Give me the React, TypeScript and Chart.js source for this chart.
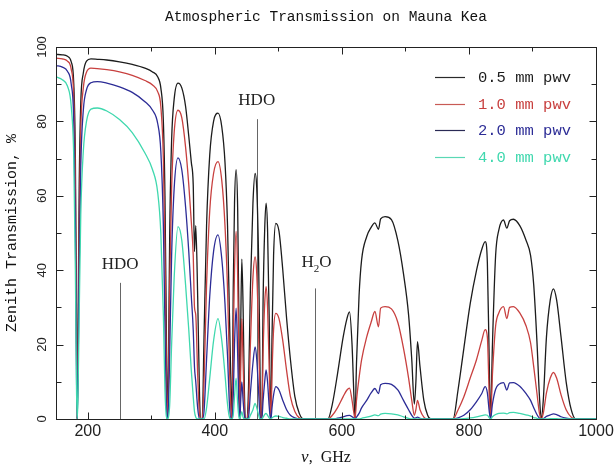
import React, { useEffect, useRef } from "react";
import { Chart, registerables } from "chart.js";

Chart.register(...registerables);

// ---- data ----
const freqGHz = [
  150, 160, 168, 174, 178, 180.5, 182.3, 183.3, 184.5, 186.5, 189, 193, 198, 205, 215,
  230, 250, 270, 290, 302, 310, 315, 319, 321.5, 323.5, 325.2, 327, 329, 332, 336, 342,
  348, 354, 359, 363, 366, 368, 370, 373, 376, 378, 380.2, 383, 387, 392, 398, 405, 411,
  416, 420, 423, 425.5, 427, 429, 431, 433.5, 436, 438, 439.3, 441, 442.5, 444.5, 446.5,
  448, 450, 453, 456, 460, 463.4, 466, 469, 471, 472.5, 474, 476, 478.5, 480.7, 483,
  485.5, 487.2, 488.3, 490, 492.5, 496, 501, 507, 513, 519, 526, 533, 540, 578, 585, 593,
  602, 608, 612, 616, 619, 620.7, 623, 627, 631, 639, 646, 652, 657.6, 661, 668, 678, 688,
  697, 705, 710, 714, 716.5, 719, 723, 729, 735, 740, 775, 783, 792, 802, 812, 820, 825.6,
  829, 832, 834, 837, 842, 847, 854.4, 859.7, 864, 870, 880, 890, 897, 902, 907, 911,
  913.8, 917, 922, 928, 933, 938, 945, 953, 961, 968, 1000,
];

const pwv05 = [
  98.0, 97.9, 97.5, 96.0, 90, 70, 25, 0, 20, 62, 85, 93, 96.2, 96.8, 96.7,
  96.5, 96.0, 95.3, 94.3, 93.3, 92.0, 89.0, 80, 60, 28, 0, 15, 50, 75, 86, 90.3,
  89, 84, 76, 69, 63, 45, 52, 33, 6, 0, 0, 22, 52, 71, 80, 82.2, 78.5,
  69, 52, 28, 8, 0, 35, 58, 67, 56, 25, 0, 28, 43, 30, 8,
  0, 0, 8, 35, 58, 66, 62, 42, 15, 0, 0, 32, 51, 58, 51,
  28, 5, 0, 22, 44, 52.6, 50.5, 40, 27, 16, 6, 1.5, 0, 0, 4, 12,
  22, 27, 28.8, 20, 6, 0, 15, 33, 42.7, 49, 51.5, 52.7, 51, 53.8, 54.4, 53.6, 48,
  39, 28, 16, 4, 10, 20.8, 14, 5, 1, 0, 0, 8, 19, 31, 40, 45.5, 47.7,
  42, 15, 0, 20, 44, 50.8, 53.5, 51.3, 53.3, 53.7, 52, 48, 44, 36, 21, 6,
  0, 5, 22, 32, 35, 32, 22, 10, 2.5, 0, 0,
];

const pwv10 = [
  97.0, 96.8, 96.2, 94.0, 86, 62, 18, 0, 14, 52, 78, 89, 93.2, 94.3, 94.2,
  93.9, 93.3, 92.4, 91.0, 89.8, 88.0, 84.0, 70, 45, 15, 0, 8, 36, 62, 77, 83,
  81, 73, 63, 53, 44, 30, 28, 12, 1, 0, 0, 10, 36, 56, 66, 69.2, 64,
  52, 35, 14, 2, 0, 20, 40, 50.4, 38, 12, 0, 16, 27, 15, 3,
  0, 0, 3, 20, 38, 43.6, 39, 22, 6, 0, 0, 18, 31, 35.6, 30,
  14, 2, 0, 12, 24, 28.4, 27, 21, 13, 6, 2, 0.3, 0, 0, 1, 3,
  6, 7.8, 8.3, 5, 1.5, 0, 5, 11, 15.9, 22, 26, 28.9, 24.8, 29.8, 30.2, 29.6, 26,
  19, 11, 5, 1, 2.5, 5, 2.5, 0.5, 0, 0, 0, 2.5, 6, 11, 16, 21, 24,
  22, 6, 0, 12, 25, 28.5, 30.2, 27, 30, 30.2, 28.5, 25, 20.5, 14, 7, 1.5,
  0, 1.5, 7, 11, 12.5, 11, 6.5, 2.5, 0.5, 0, 0,
];

const pwv20 = [
  95.0, 94.6, 93.5, 90.0, 80, 52, 12, 0, 9, 40, 68, 83, 88.5, 90.4, 90.7,
  90.3, 89.3, 87.8, 85.3, 83.0, 79.5, 72.0, 52, 25, 5, 0, 3, 18, 44, 62, 70.2,
  67, 57, 45, 33, 24, 14, 10, 3, 0, 0, 0, 2, 16, 33, 45, 49.5, 43,
  31, 17, 4, 0, 0, 6, 20, 29.8, 17, 3, 0, 6, 10, 5, 1,
  0, 0, 0.5, 7, 15, 19.4, 16, 7, 1, 0, 0, 5, 10, 13.2, 10,
  3.5, 0.5, 0, 3, 6.5, 8.7, 7.8, 5, 2.5, 1, 0.3, 0, 0, 0, 0, 0.2,
  0.6, 0.9, 1, 0.6, 0.2, 0, 0.5, 1.5, 3, 5, 7, 8.2, 6.8, 9.2, 9.6, 9.3, 7.8,
  5, 2.5, 1, 0.2, 0.3, 0.5, 0.2, 0, 0, 0, 0, 0.3, 1, 2.5, 4.7, 6.8, 8.7,
  7, 2, 0, 4, 8, 9.3, 9.8, 7.8, 9.7, 9.8, 8.8, 6.8, 5, 3, 1.2, 0.2,
  0, 0.1, 0.7, 1.1, 1.4, 1.2, 0.6, 0.2, 0, 0, 0,
];

const pwv40 = [
  92.0, 91.2, 89.5, 84.0, 70, 40, 8, 0, 5, 28, 55, 72, 80, 83.3, 83.6,
  82.8, 80.5, 77.0, 71.5, 67.0, 61.0, 50.0, 28, 8, 1, 0, 0.5, 4, 20, 38, 51.7,
  48, 36, 24, 13, 6, 2, 0.5, 0, 0, 0, 0, 0, 3, 11, 21, 27, 21,
  12, 4, 0.5, 0, 0, 1, 6, 11, 4, 0.5, 0, 1, 2, 0.5, 0,
  0, 0, 0, 1, 2.5, 4.2, 3, 1, 0, 0, 0, 0.5, 1.2, 1.5, 1,
  0.3, 0, 0, 0.3, 0.6, 0.8, 0.7, 0.4, 0.2, 0, 0, 0, 0, 0, 0, 0,
  0, 0, 0, 0, 0, 0, 0, 0, 0.2, 0.5, 0.8, 1.1, 0.9, 1.3, 1.5, 1.4, 1.1,
  0.6, 0.2, 0, 0, 0, 0, 0, 0, 0, 0, 0, 0, 0.1, 0.3, 0.6, 0.9, 1.1,
  1, 0.3, 0, 0.6, 1.2, 1.5, 1.6, 1.4, 1.7, 1.8, 1.5, 1.1, 0.8, 0.4, 0.2, 0,
  0, 0, 0, 0.1, 0.1, 0.1, 0, 0, 0, 0, 0,
];

const seriesLabels = ["0.5 mm pwv", "1.0 mm pwv", "2.0 mm pwv", "4.0 mm pwv"];
const seriesColors = ["#1c1c1c", "#c8403f", "#2c2c96", "#3fd8ae"];
const legendLineColors = ["#2a2a2a", "#c85a55", "#2a2a55", "#5ad8b4"];

const xTickValues = [200, 300, 400, 500, 600, 700, 800, 900, 1000];
const xLabelValues = [200, 400, 600, 800, 1000];
const yTickValues = [0, 10, 20, 30, 40, 50, 60, 70, 80, 90, 100];
const yLabelValues = [0, 20, 40, 60, 80, 100];

const annotFreq = [251, 466, 557];
const annotTop = [36.6, 80.6, 35.1];
const annotLabelValue = [41.5, 85.5, 42];

const titleText = "Atmospheric Transmission on Mauna Kea";
const yTitleText = "Zenith Transmission, %";

const MONO = '"Liberation Mono", "DejaVu Sans Mono", monospace';
const SANS = '"Liberation Sans", Arial, sans-serif';
const SERIF = '"Liberation Serif", "Times New Roman", serif';

const decorPlugin = {
  id: "decor",
  beforeDatasetsDraw(chart: any) {
    const { ctx, chartArea, scales } = chart;
    const xs = scales.x;
    const ys = scales.y;
    ctx.save();
    ctx.strokeStyle = "#666";
    ctx.lineWidth = 1;
    annotFreq.forEach((f, i) => {
      const px = Math.round(xs.getPixelForValue(f)) + 0.5;
      ctx.beginPath();
      ctx.moveTo(px, ys.getPixelForValue(annotTop[i]));
      ctx.lineTo(px, chartArea.bottom);
      ctx.stroke();
    });
    ctx.restore();
  },
  afterDraw(chart: any) {
    const { ctx, chartArea, scales } = chart;
    const xs = scales.x;
    const ys = scales.y;
    const L = Math.round(chartArea.left) + 0.5;
    const R = Math.round(chartArea.right) + 0.5;
    const T = Math.round(chartArea.top) + 0.5;
    const B = Math.round(chartArea.bottom) + 0.5;
    ctx.save();
    // frame
    ctx.strokeStyle = "#222";
    ctx.lineWidth = 1;
    ctx.strokeRect(L, T, R - L, B - T);
    // x ticks (inward, top & bottom)
    ctx.beginPath();
    xTickValues.forEach((v) => {
      const px = Math.round(xs.getPixelForValue(v)) + 0.5;
      const len = xLabelValues.includes(v) ? 7 : 4;
      ctx.moveTo(px, B);
      ctx.lineTo(px, B - len);
      ctx.moveTo(px, T);
      ctx.lineTo(px, T + len);
    });
    yTickValues.forEach((v) => {
      const py = Math.round(ys.getPixelForValue(v)) + 0.5;
      const len = yLabelValues.includes(v) ? 7 : 5;
      ctx.moveTo(L, py);
      ctx.lineTo(L + len, py);
      ctx.moveTo(R, py);
      ctx.lineTo(R - len, py);
    });
    ctx.stroke();

    // x labels
    ctx.fillStyle = "#222";
    ctx.font = `16px ${SANS}`;
    ctx.textAlign = "center";
    ctx.textBaseline = "middle";
    xLabelValues.forEach((v) => {
      ctx.fillText(String(v), xs.getPixelForValue(v), chartArea.bottom + 13);
    });
    // y labels (rotated)
    ctx.font = `13px ${SANS}`;
    yLabelValues.forEach((v) => {
      ctx.save();
      ctx.translate(chartArea.left - 14, ys.getPixelForValue(v));
      ctx.rotate(-Math.PI / 2);
      ctx.fillText(String(v), 0, 0);
      ctx.restore();
    });

    // title
    ctx.fillStyle = "#111";
    ctx.font = `14.5px ${MONO}`;
    ctx.fillText(titleText, (chartArea.left + chartArea.right) / 2, 17);

    // y title
    ctx.save();
    ctx.font = `15px ${MONO}`;
    ctx.translate(12, (chartArea.top + chartArea.bottom) / 2);
    ctx.rotate(-Math.PI / 2);
    ctx.fillText(yTitleText, 0, 0);
    ctx.restore();

    // x title: ν, GHz
    const cx = (chartArea.left + chartArea.right) / 2;
    const ty = chartArea.bottom + 39;
    ctx.textAlign = "left";
    ctx.font = `italic 17px ${SERIF}`;
    const nuW = ctx.measureText("ν").width;
    ctx.font = `16px ${SERIF}`;
    const restW = ctx.measureText(",  GHz").width;
    const startX = cx - (nuW + restW) / 2;
    ctx.font = `italic 17px ${SERIF}`;
    ctx.fillText("ν", startX, ty);
    ctx.font = `16px ${SERIF}`;
    ctx.fillText(",  GHz", startX + nuW, ty);

    // annotation labels
    ctx.fillStyle = "#222";
    ctx.font = `17px ${SERIF}`;
    ctx.textAlign = "center";
    ctx.fillText("HDO", xs.getPixelForValue(annotFreq[0]), ys.getPixelForValue(annotLabelValue[0]));
    ctx.fillText("HDO", xs.getPixelForValue(annotFreq[1]), ys.getPixelForValue(annotLabelValue[1]));
    // H2O with subscript
    const hx = xs.getPixelForValue(annotFreq[2]);
    const hy = ys.getPixelForValue(annotLabelValue[2]);
    ctx.font = `17px ${SERIF}`;
    const wH = ctx.measureText("H").width;
    const wO = ctx.measureText("O").width;
    ctx.font = `11px ${SERIF}`;
    const w2 = ctx.measureText("2").width;
    const sx = hx - (wH + w2 + wO) / 2 + 2;
    ctx.textAlign = "left";
    ctx.font = `17px ${SERIF}`;
    ctx.fillText("H", sx, hy);
    ctx.font = `11px ${SERIF}`;
    ctx.fillText("2", sx + wH, hy + 6);
    ctx.font = `17px ${SERIF}`;
    ctx.fillText("O", sx + wH + w2, hy);

    // legend
    const legX0 = chartArea.right - 161;
    const legX1 = chartArea.right - 131;
    const textX = chartArea.right - 118;
    const rowY0 = chartArea.top + 30;
    const rowStep = 26.7;
    ctx.font = `15.5px ${MONO}`;
    ctx.textAlign = "left";
    seriesLabels.forEach((lab, i) => {
      const y = Math.round(rowY0 + i * rowStep) + 0.5;
      ctx.strokeStyle = legendLineColors[i];
      ctx.lineWidth = 1.2;
      ctx.beginPath();
      ctx.moveTo(legX0, y);
      ctx.lineTo(legX1, y);
      ctx.stroke();
      ctx.fillStyle = seriesColors[i];
      ctx.fillText(lab, textX, y);
    });
    ctx.restore();
  },
};

export default function App() {
  const canvasRef = useRef<HTMLCanvasElement | null>(null);

  useEffect(() => {
    const canvas = canvasRef.current;
    if (!canvas) return;
    const seriesValues = [pwv05, pwv10, pwv20, pwv40];
    const chart = new Chart(canvas, {
      type: "line",
      data: {
        datasets: seriesValues.map((vals, i) => ({
          label: seriesLabels[i],
          data: freqGHz.map((f, j) => ({ x: f, y: vals[j] })),
          borderColor: seriesColors[i],
          borderWidth: 1.3,
          pointRadius: 0,
          fill: false,
          cubicInterpolationMode: "monotone" as const,
          order: 3 - i,
        })),
      },
      options: {
        animation: false,
        responsive: false,
        maintainAspectRatio: false,
        layout: { padding: { left: 56, top: 47, right: 18, bottom: 53 } },
        plugins: {
          legend: { display: false },
          tooltip: { enabled: false },
          title: { display: false },
        },
        scales: {
          x: { type: "linear", min: 150, max: 1000, display: false },
          y: { type: "linear", min: 0, max: 100, display: false },
        },
      },
      plugins: [decorPlugin],
    });
    return () => chart.destroy();
  }, []);

  return (
    <div style={{ position: "absolute", left: 0, top: 0, width: 614, height: 472, background: "#fff" }}>
      <canvas ref={canvasRef} width={614} height={472} />
    </div>
  );
}
